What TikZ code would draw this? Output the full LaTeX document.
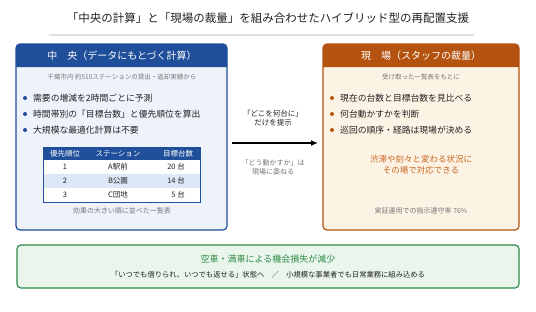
\documentclass[tikz,border=0pt]{standalone}
\usepackage{fontspec}
\setmainfont{Noto Sans CJK JP}
\usetikzlibrary{arrows.meta}
\definecolor{cblue}{HTML}{1F4E9A}
\definecolor{bodyblue}{HTML}{EEF3FB}
\definecolor{rowblue}{HTML}{DCE8F8}
\definecolor{corange}{HTML}{B4530F}
\definecolor{bodyorange}{HTML}{FDF3E5}
\definecolor{torange}{HTML}{C8651E}
\definecolor{cgreen}{HTML}{2E8B47}
\definecolor{bodygreen}{HTML}{EAF6EC}
\definecolor{tgray}{HTML}{777777}
\definecolor{tdark}{HTML}{222222}
\definecolor{lgray}{HTML}{DDE0E4}
\begin{document}
\begin{tikzpicture}[x=1pt,y=-1pt,
  fs/.style={font=\fontsize{#1}{#1}\selectfont},
  panel/.style={draw=#1, line width=1.2pt, rounded corners=4pt, minimum width=0, inner sep=0},
  dot/.style={circle, fill=#1, inner sep=0pt, minimum size=4pt},
  btext/.style={anchor=west, fs=8.8, text=tdark, inner sep=0pt},
  sub/.style={fs=6.5, text=tgray, inner sep=0pt},
  cell/.style={fs=7.5, text=tdark, inner sep=0pt},
  hcell/.style={fs=7.5, text=white, inner sep=0pt}]
\useasboundingbox (0,0) rectangle (536,311);
\fill[white] (0,0) rectangle (536,311);
% title
\node[fs=11.5, text=tdark] (title) at (268,18) {「中央の計算」と「現場の裁量」を組み合わせたハイブリッド型の再配置支援};
\coordinate (ul1) at (49,35);
\coordinate (ul2) at (474,35);
\draw[lgray, line width=1.5pt] (ul1) -- (ul2);
% left panel
\fill[bodyblue, rounded corners=4pt] (16,44) rectangle (227,230);
\fill[cblue, rounded corners=4pt] (16,67) -- (16,44) -- (227,44) [sharp corners] -- (227,67) -- cycle;
\draw[cblue, line width=1.2pt, rounded corners=4pt] (16,44) rectangle (227,230);
\node[fs=10, text=white] (Lh) at (122,55.5) {中　央（データにもとづく計算）};
\node[sub] (Ls) at (122,77) {千葉市内 約510ステーションの貸出・返却実績から};
\node[dot=cblue] (Ld1) at (25,98) {};
\node[dot=cblue] (Ld2) at (25,114) {};
\node[dot=cblue] (Ld3) at (25,130) {};
\node[btext] (Lb1) at (33,98) {需要の増減を2時間ごとに予測};
\node[btext] (Lb2) at (33,114) {時間帯別の「目標台数」と優先順位を算出};
\node[btext] (Lb3) at (33,130) {大規模な最適化計算は不要};
% table
\fill[white] (43,147) rectangle (200,202);
\fill[cblue] (43,147) rectangle (200,160);
\fill[rowblue] (43,174) rectangle (200,188);
\draw[cblue, line width=0.8pt] (43,147) rectangle (200,202);
\node[hcell] (th1) at (65,153.5) {優先順位};
\node[hcell] (th2) at (118,153.5) {ステーション};
\node[hcell] (th3) at (178,153.5) {目標台数};
\node[cell] (r1a) at (65,167) {1};
\node[cell] (r1b) at (118,167) {A駅前};
\node[cell, anchor=east] (r1c) at (185,167) {20 台};
\node[cell] (r2a) at (65,181) {2};
\node[cell] (r2b) at (118,181) {B公園};
\node[cell, anchor=east] (r2c) at (185,181) {14 台};
\node[cell] (r3a) at (65,195) {3};
\node[cell] (r3b) at (118,195) {C団地};
\node[cell, anchor=east] (r3c) at (185,195) {5 台};
\node[fs=7, text=tgray] (Lc) at (122,211) {効果の大きい順に並べた一覧表};
% right panel
\fill[bodyorange, rounded corners=4pt] (323,44) rectangle (519,230);
\fill[corange, rounded corners=4pt] (323,67) -- (323,44) -- (519,44) [sharp corners] -- (519,67) -- cycle;
\draw[corange, line width=1.2pt, rounded corners=4pt] (323,44) rectangle (519,230);
\node[fs=10, text=white] (Rh) at (421,55.5) {現　場（スタッフの裁量）};
\node[sub] (Rs) at (421,77) {受け取った一覧表をもとに};
\node[dot=corange] (Rd1) at (332,98) {};
\node[dot=corange] (Rd2) at (332,114) {};
\node[dot=corange] (Rd3) at (332,130) {};
\node[btext] (Rb1) at (340,98) {現在の台数と目標台数を見比べる};
\node[btext] (Rb2) at (340,114) {何台動かすかを判断};
\node[btext] (Rb3) at (340,130) {巡回の順序・経路は現場が決める};
\node[fs=8.5, text=torange, align=center] (Ro) at (421,165) {渋滞や刻々と変わる状況に\\[2pt]その場で対応できる};
\node[fs=7, text=tgray] (Rc) at (421,211) {実証運用での指示遵守率 76\%};
% middle arrow
\coordinate (aL) at (232,143);
\coordinate (aR) at (318,143);
\draw[line width=1.5pt, -{Latex[length=7pt,width=6pt]}] (aL) -- (aR);
\node[fs=7.5, text=tdark, align=center] (m1) at (273,118) {「どこを何台に」\\[1.5pt]だけを提示};
\node[fs=7, text=tgray, align=center] (m2) at (273,167.5) {「どう動かすか」は\\[1.5pt]現場に委ねる};
% bottom panel
\draw[cgreen, fill=bodygreen, line width=1.2pt, rounded corners=4pt] (17,245) rectangle (519,288);
\node[fs=9, text=cgreen] (Gt) at (268,259) {空車・満車による機会損失が減少};
\node[fs=7.3, text=tdark] (Gs) at (268,275) {「いつでも借りられ、いつでも返せる」状態へ\quad ／\quad 小規模な事業者でも日常業務に組み込める};
\end{tikzpicture}
\end{document}
